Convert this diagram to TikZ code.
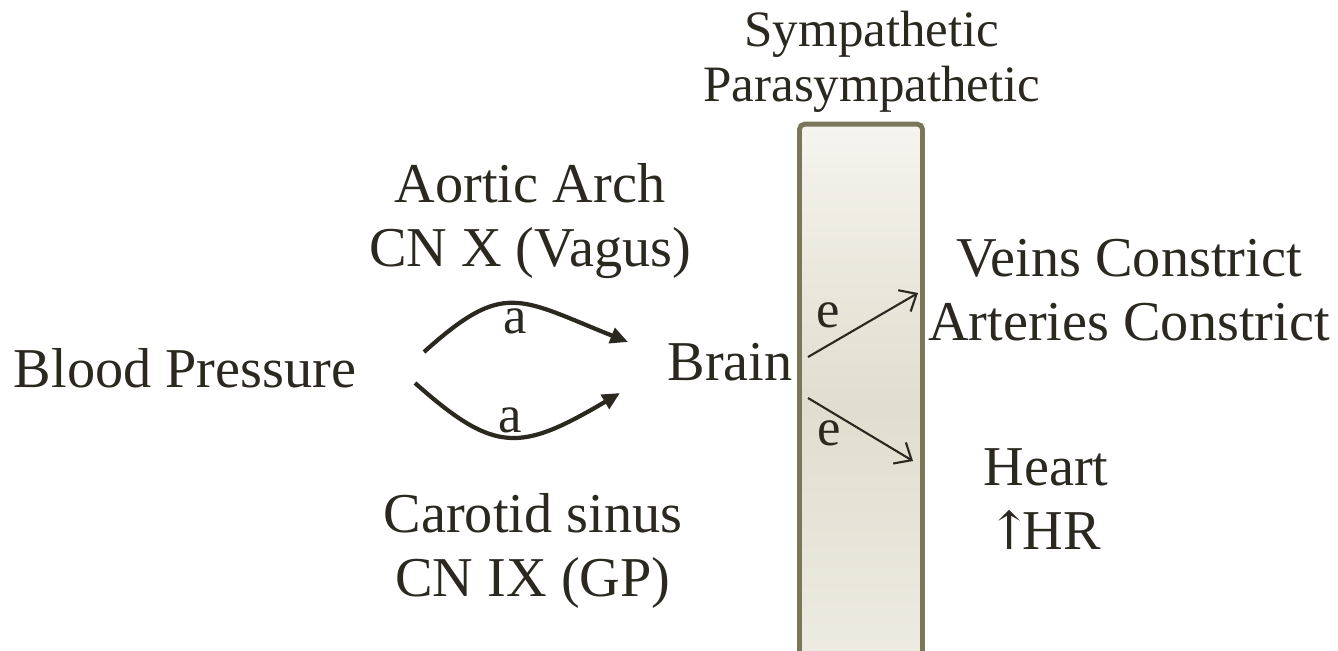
\documentclass[tikz,border=0pt]{standalone}
\usepackage{fontspec}
\setmainfont{Liberation Serif}
\newfontfamily\arrowfont{DejaVu Serif}
\usetikzlibrary{arrows.meta,positioning}

\definecolor{inkdark}{RGB}{43,40,32}
\definecolor{boxedge}{RGB}{122,118,90}
\definecolor{boxtop}{RGB}{245,244,238}
\definecolor{boxmid}{RGB}{224,222,206}
\definecolor{boxbot}{RGB}{238,237,229}

\begin{document}
\begin{tikzpicture}[
  x=0.01cm, y=-0.01cm,
  font=\fontsize{16}{18.4}\selectfont,
  lbl/.style={align=center, inner sep=0pt, text=inkdark},
  tag/.style={inner sep=1pt, text=inkdark, font=\fontsize{15}{16}\selectfont},
  reflex/.style={-{Triangle[length=5pt,width=4.5pt]}, line width=1.2pt, draw=inkdark},
  efferent/.style={-{Straight Barb[length=4pt,width=7pt]}, line width=0.6pt, draw=inkdark}
]
\useasboundingbox (0,0) rectangle (1338,650);

% autonomic column
\node[draw=boxedge, line width=1.4pt, rounded corners=1.5pt,
      top color=boxtop, bottom color=boxbot, middle color=boxmid,
      minimum width=1.23cm, minimum height=5.655cm, inner sep=0pt] (cns) at (861,407) {};
\node[lbl, font=\fontsize{14.5}{15.7}\selectfont] (tone) at (872,62) {Sympathetic\\Parasympathetic};

% receptors and targets
\node[lbl, anchor=base] (bp) at (185,387) {Blood Pressure};
\node[lbl] (aortic) at (530,221) {Aortic Arch\\CN X (Vagus)};
\node[lbl] (carotid) at (533,551) {Carotid sinus\\CN IX (GP)};
\node[lbl, anchor=base] (brain) at (730,380) {Brain};
\node[lbl] (vessels) at (1129,290) {Veins Constrict\\Arteries Constrict};
\node[lbl] (heart) at (1046,499) {Heart\\{\arrowfont\fontsize{15}{16}\selectfont\kern-1pt↑\kern-2.5pt}HR};

% connector ends
\coordinate (bpHi) at (424,352);
\coordinate (bpLo) at (415,383);
\coordinate (brHi) at (628,342);
\coordinate (brLo) at (620,393);
\coordinate (outHi) at (808,357);
\coordinate (outLo) at (808,398);
\coordinate (vesIn) at (918,293);
\coordinate (hrtIn) at (913,461);

\draw[reflex] (bpHi) .. controls (504,280) and (518,298) .. node[tag, anchor=north] {a} (brHi);
\draw[reflex] (bpLo) .. controls (495,454) and (520,452) .. node[tag, anchor=south, yshift=-0.6pt] {a} (brLo);
\draw[efferent] (outHi) -- (vesIn);
\draw[efferent] (outLo) -- (hrtIn);
\node[tag] (eHi) at (828,315) {e};
\node[tag] (eLo) at (829,433) {e};
\end{tikzpicture}
\end{document}
